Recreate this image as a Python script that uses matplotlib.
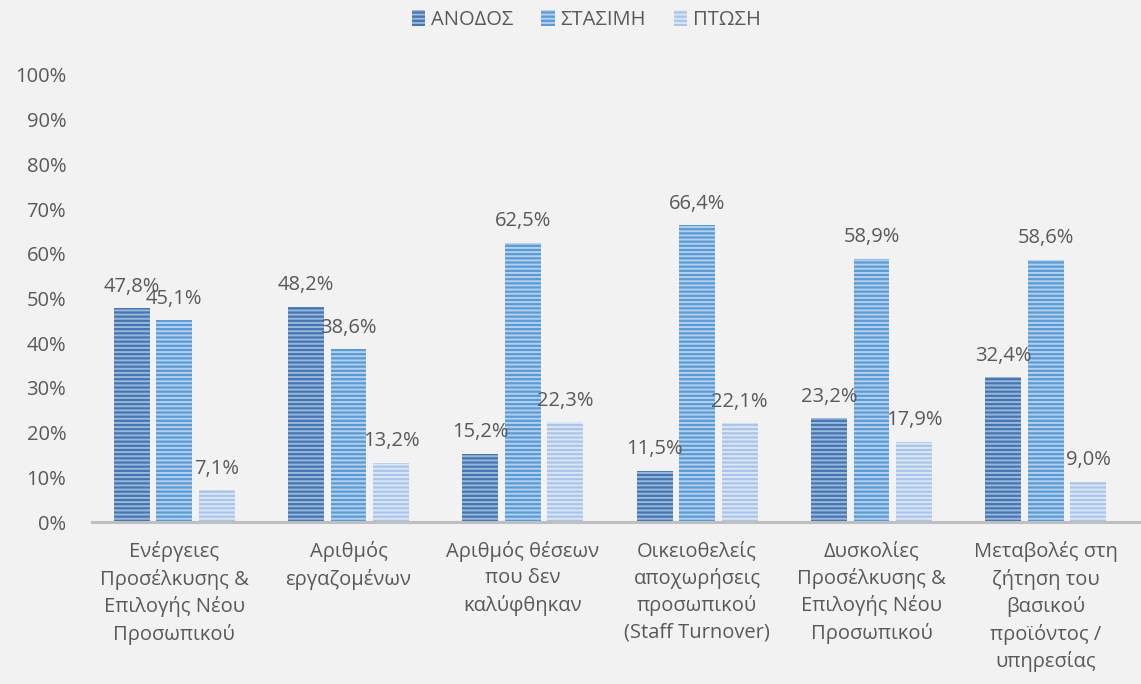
import matplotlib
matplotlib.use("Agg")
import matplotlib.pyplot as plt
import numpy as np

categories = ["Ενέργειες\nΠροσέλκυσης &\nΕπιλογής Νέου\nΠροσωπικού",
              "Αριθμός\nεργαζομένων",
              "Αριθμός θέσεων\nπου δεν\nκαλύφθηκαν",
              "Οικειοθελείς\nαποχωρήσεις\nπροσωπικού\n(Staff Turnover)",
              "Δυσκολίες\nΠροσέλκυσης &\nΕπιλογής Νέου\nΠροσωπικού",
              "Μεταβολές στη\nζήτηση του\nβασικού\nπροϊόντος /\nυπηρεσίας"]
series_names = ["ΑΝΟΔΟΣ", "ΣΤΑΣΙΜΗ", "ΠΤΩΣΗ"]
anodos = [47.8, 48.2, 15.2, 11.5, 23.2, 32.4]
stasimi = [45.1, 38.6, 62.5, 66.4, 58.9, 58.6]
ptosi = [7.1, 13.2, 22.3, 22.1, 17.9, 9.0]
yticks = [0, 10, 20, 30, 40, 50, 60, 70, 80, 90, 100]

face_colors = ["#4676b0", "#5b9bd5", "#a9c5ea"]
stripe_colors = ["#9ab8de", "#b3d0ef", "#dbe7f6"]

plt.rcParams['hatch.linewidth'] = 1.4
fig = plt.figure(figsize=(11.41, 6.84), dpi=100)
fig.patch.set_facecolor("#f2f2f2")
ax = fig.add_axes([87/1141, 1-522/684, (1141-87)/1141, (522-75)/684])
ax.set_facecolor("#f2f2f2")

x = np.arange(len(categories))
w = 0.206
step = 0.244
text_col = "#595959"
fs = 14.5
handles = []
for i, (vals, name) in enumerate(zip([anodos, stasimi, ptosi], series_names)):
    pos = x + (i - 1) * step
    bars = ax.bar(pos, vals, width=w, color=face_colors[i], edgecolor=stripe_colors[i],
                  hatch="----", linewidth=0, label=name, zorder=2)
    handles.append(bars)
    for p, v in zip(pos, vals):
        ax.text(p, v + 2.6, f"{v:.1f}%".replace(".", ","), ha="center", va="bottom",
                fontsize=fs, color=text_col, fontfamily="Open Sans")

ax.set_ylim(0, 100)
ax.set_xlim(-0.5, len(categories) - 0.5 + 8/174.4)
ax.set_yticks(yticks)
ax.set_yticklabels([f"{t}%" for t in yticks], fontsize=fs, color=text_col, fontfamily="Open Sans")
ax.set_xticks(x)
ax.set_xticklabels(categories, fontsize=fs, color=text_col, fontfamily="Open Sans", linespacing=1.4)
ax.tick_params(axis="both", length=0)
ax.tick_params(axis="y", pad=15)
ax.tick_params(axis="x", pad=14)
for s in ["top", "right", "left"]:
    ax.spines[s].set_visible(False)
ax.spines["bottom"].set_color("#bfbfbf")
ax.spines["bottom"].set_linewidth(2.2)
ax.spines["bottom"].set_bounds(-0.5 + 5/174.4, len(categories) - 0.5 + 8/174.4)

leg = fig.legend(handles=handles, labels=series_names, loc="center",
                 bbox_to_anchor=(0.5 + 16/1141, 1 - 20/684),
                 ncol=3, frameon=False, fontsize=fs, handlelength=0.65, handleheight=0.8,
                 columnspacing=1.4, handletextpad=0.3)
for t in leg.get_texts():
    t.set_color(text_col)
    t.set_fontfamily("Open Sans")

fig.savefig("out.png", dpi=100, facecolor=fig.get_facecolor())
